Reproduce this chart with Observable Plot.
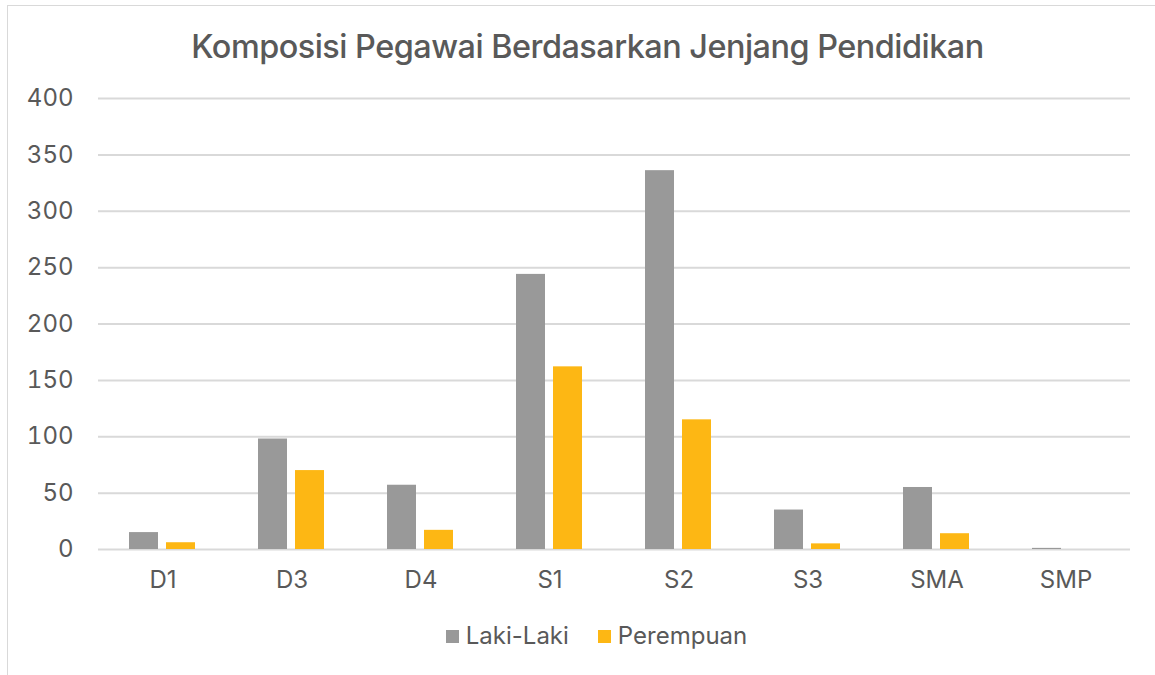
<!DOCTYPE html>
<html>
<head>
<meta charset="utf-8">
<script src="https://cdn.jsdelivr.net/npm/d3@7"></script>
<script src="https://cdn.jsdelivr.net/npm/@observablehq/plot@0.6"></script>
<style>
  html, body { margin: 0; padding: 0; background: #fff; overflow: hidden; }
  body { width: 1155px; height: 675px; position: relative; font-family: Inter, "Noto Sans", sans-serif; color: #595959; }
  #frame { position: absolute; left: 7px; top: 5px; width: 1200px; height: 700px; border-left: 1px solid #d9d9d9; border-top: 1px solid #d9d9d9; pointer-events: none; z-index: 5; }
  #title { position: absolute; left: 10px; top: 29px; width: 1155px; text-align: center; font-size: 32.4px; line-height: 36px; font-weight: 500; letter-spacing: -0.5px; }
  #chart { position: absolute; left: 0; top: 80px; }
  #legend { position: absolute; left: 19px; top: 622px; width: 1155px; display: flex; justify-content: center; gap: 29px; font-size: 24px; line-height: 28px; }
  .item { display: flex; align-items: center; gap: 7px; }
  .sw { width: 13px; height: 13px; display: inline-block; }
</style>
</head>
<body>
<div id="frame"></div>
<div id="title">Komposisi Pegawai Berdasarkan Jenjang Pendidikan</div>
<div id="chart"></div>
<div id="legend"></div>
<script>
const categories = ["D1", "D3", "D4", "S1", "S2", "S3", "SMA", "SMP"];
const series = ["Laki-Laki", "Perempuan"];
const lakiLaki = [15, 98, 57, 244, 336, 35, 55, 1];
const perempuan = [6, 70, 17, 162, 115, 5, 14, 0];
const yTicks = [0, 50, 100, 150, 200, 250, 300, 350, 400];
const colors = ["#999999", "#FDB714"];

const data = categories.flatMap((c, i) => [
  {cat: c, series: series[0], value: lakiLaki[i]},
  {cat: c, series: series[1], value: perempuan[i]}
]);

const chart = Plot.plot({
  width: 1155,
  height: 520,
  marginLeft: 98,
  marginRight: 25,
  marginTop: 18,
  marginBottom: 51,
  style: {fontFamily: "Inter, 'Noto Sans', sans-serif", fontSize: "24px", color: "#595959", background: "white", overflow: "visible"},
  fx: {domain: categories, padding: 0, label: null, tickSize: 0, tickPadding: 21, axis: "bottom"},
  x: {domain: series, axis: null, paddingInner: 0.216, paddingOuter: 0.851},
  y: {domain: [0, 400], ticks: yTicks, label: null, tickSize: 0, tickPadding: 25},
  color: {domain: series, range: colors},
  marks: [
    Plot.gridY(yTicks, {stroke: "#d9d9d9", strokeOpacity: 1, strokeWidth: 2}),
    Plot.barY(data, {fx: "cat", x: "series", y: "value", fill: "series"})
  ]
});
document.getElementById("chart").appendChild(chart);

const legend = document.getElementById("legend");
series.forEach((s, i) => {
  const item = document.createElement("div");
  item.className = "item";
  const sw = document.createElement("span");
  sw.className = "sw";
  sw.style.background = colors[i];
  const t = document.createElement("span");
  t.textContent = s;
  item.appendChild(sw);
  item.appendChild(t);
  legend.appendChild(item);
});
</script>
</body>
</html>
